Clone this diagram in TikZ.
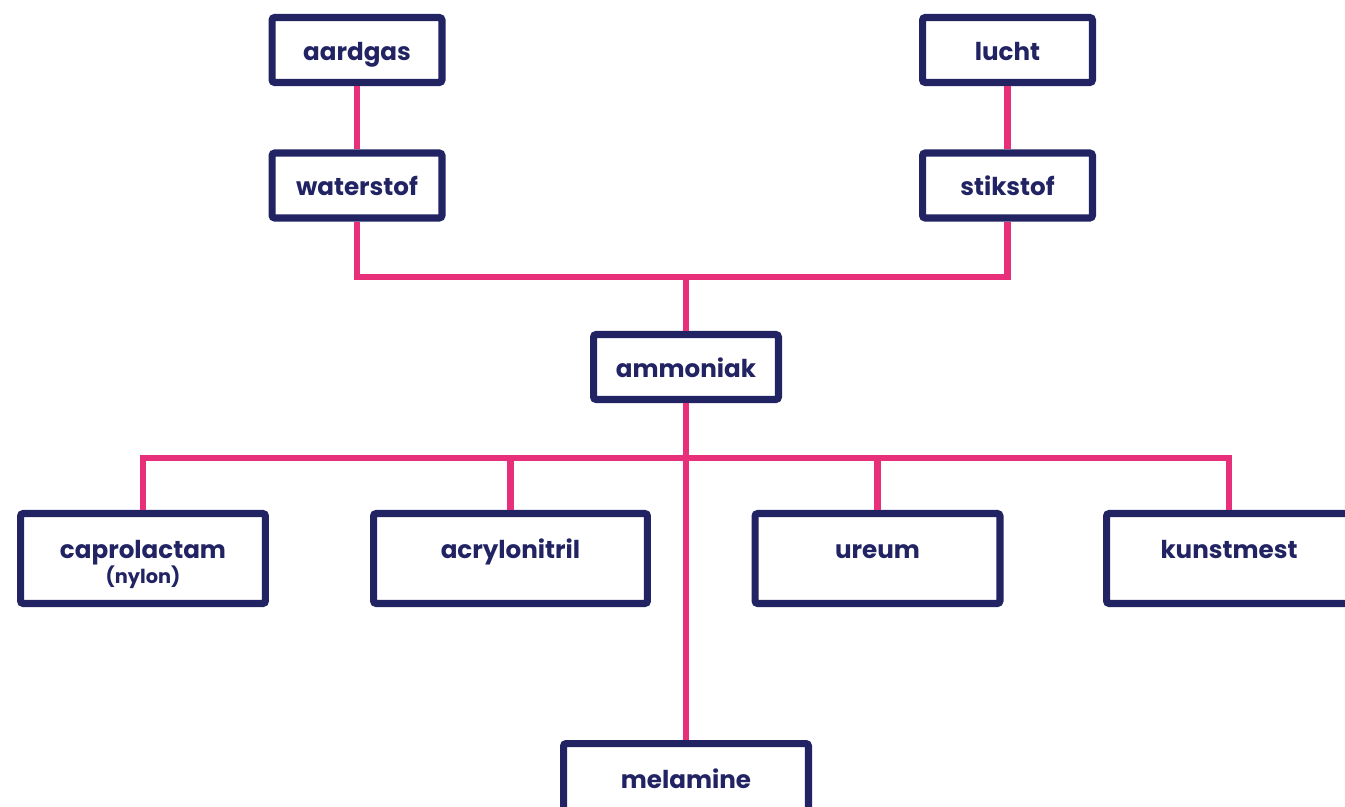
\documentclass[tikz,border=0pt]{standalone}
\usepackage{fontspec}
\setmainfont{Poppins}
\usepackage{tikz}
\usetikzlibrary{positioning}

\definecolor{navy}{RGB}{33,35,99}
\definecolor{rosy}{RGB}{231,47,122}

\tikzset{
  stof/.style={draw=navy,line width=4pt,fill=white,rounded corners=1.5pt,
    text=navy,font=\fontsize{14}{17}\selectfont\bfseries,
    minimum width=3.4cm,minimum height=1.3cm,text height=1.15em,text depth=0pt},
  product/.style={stof,minimum width=4.9cm,minimum height=1.8cm,
    text height=0.45em,text depth=0.45em},
  link/.style={draw=rosy,line width=3.7pt}
}

\begin{document}
\begin{tikzpicture}[x=0.02cm,y=-0.02cm]
  \useasboundingbox (0,0) rectangle (1345,807);
  \clip (0,0) rectangle (1345,807);

  % grondstoffen
  \node [stof] (aardgas) at (357,50) {aardgas};
  \node [stof] (waterstof) at (357,185.5) {waterstof};
  \node [stof] (lucht) at (1007.5,50) {lucht};
  \node [stof] (stikstof) at (1007.5,185.5) {stikstof};

  % ammoniak
  \node [stof,minimum width=3.7cm] (ammoniak) at (686,367) {ammoniak};

  % producten
  \node [product] (caprolactam) at (143,558.5)
    {\begin{tabular}[t]{@{}c@{}}caprolactam\\[-3pt]{\fontsize{11}{13}\selectfont(nylon)}\end{tabular}};
  \node [product,minimum width=5.48cm] (acrylonitril) at (510.5,558.5) {acrylonitril};
  \node [product] (ureum) at (877.5,558.5) {ureum};
  \node [product] (kunstmest) at (1229,558.5) {kunstmest};
  \node [product] (melamine) at (686,788.5) {melamine};

  % verbindingen
  \coordinate (samen) at (686,277);
  \coordinate (splits) at (686,458);
  \draw [link] (aardgas) -- (waterstof);
  \draw [link] (lucht) -- (stikstof);
  \draw [link] (waterstof.south) |- (samen) -| (stikstof.south);
  \draw [link] (samen) -- (ammoniak.north);
  \draw [link] (caprolactam.north) |- (splits) -| (kunstmest.north);
  \draw [link] (acrylonitril.north) -- (acrylonitril.north |- splits);
  \draw [link] (ureum.north) -- (ureum.north |- splits);
  \draw [link] (ammoniak.south) -- (melamine.north);

\end{tikzpicture}
\end{document}
